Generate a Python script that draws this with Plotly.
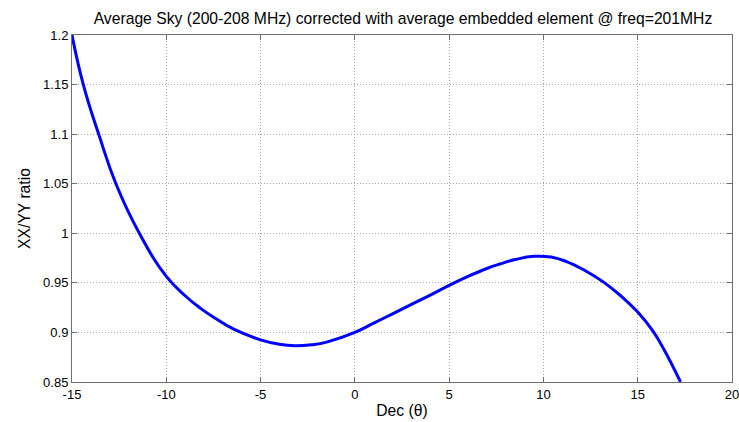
import plotly.graph_objects as go

# Declination (deg) and XX/YY ratio sampled along the curve
dec = [-15.0, -14.4, -13.55, -12.65, -11.4, -10.0, -9.0, -8.2, -7.3, -6.45,
       -5.0, -4.0, -3.2, -2.3, -1.45, 0.0, 1.0, 2.0, 3.0, 4.0, 5.0, 6.0, 7.0,
       7.69, 8.5, 9.5, 10.4, 11.22, 12.2, 13.17, 14.1, 15.0, 15.8, 16.4, 17.27]
ratio = [1.200, 1.150, 1.098, 1.049, 0.999, 0.9565, 0.937, 0.9245, 0.913, 0.9035,
         0.8925, 0.888, 0.8865, 0.8875, 0.8905, 0.900, 0.9093, 0.9188, 0.9283,
         0.9377, 0.9475, 0.9565, 0.9645, 0.969, 0.9735, 0.9768, 0.976, 0.9715,
         0.9625, 0.951, 0.937, 0.9205, 0.9015, 0.8825, 0.850]

x_ticks = [-15, -10, -5, 0, 5, 10, 15, 20]
x_labels = ["-15", "-10", "-5", "0", "5", "10", "15", "20"]
y_ticks = [0.85, 0.9, 0.95, 1.0, 1.05, 1.1, 1.15, 1.2]
y_labels = ["0.85", "0.9", "0.95", "1", "1.05", "1.1", "1.15", "1.2"]

family = "Liberation Sans, Arial, sans-serif"
tick_font = dict(family=family, size=13, color="black")
label_font = dict(family=family, size=15.7, color="black")

fig = go.Figure()
fig.add_trace(go.Scatter(
    x=dec, y=ratio, mode="lines",
    line=dict(color="#0000ff", width=3, shape="spline", smoothing=1.3),
    showlegend=False, hoverinfo="skip",
))

axis_common = dict(
    showline=True, linecolor="#6e6e6e", linewidth=1, mirror="allticks",
    ticks="inside", ticklen=5, tickcolor="#6e6e6e",
    showgrid=True, gridcolor="#a8a8a8", griddash="1px,2px", gridwidth=1,
    zeroline=False, tickfont=tick_font, ticklabeloverflow="allow",
    automargin=False,
)

fig.update_layout(
    width=739, height=422,
    margin=dict(l=72, r=7, t=35, b=40),
    paper_bgcolor="white", plot_bgcolor="white",
    font=tick_font,
    title=dict(
        text="Average Sky (200-208 MHz) corrected with average embedded element @ freq=201MHz",
        x=403 / 739, xanchor="center", y=0.957, yanchor="middle",
        xref="container", font=label_font,
    ),
    xaxis=dict(range=[-15, 20], tickvals=x_ticks, ticktext=x_labels,
               title=dict(text="Dec (θ)", standoff=4, font=label_font),
               **axis_common),
    yaxis=dict(range=[0.85, 1.2], tickvals=y_ticks, ticktext=y_labels,
               title=dict(text="XX/YY ratio", standoff=8, font=label_font),
               **axis_common),
)

fig.write_html("out.html")
